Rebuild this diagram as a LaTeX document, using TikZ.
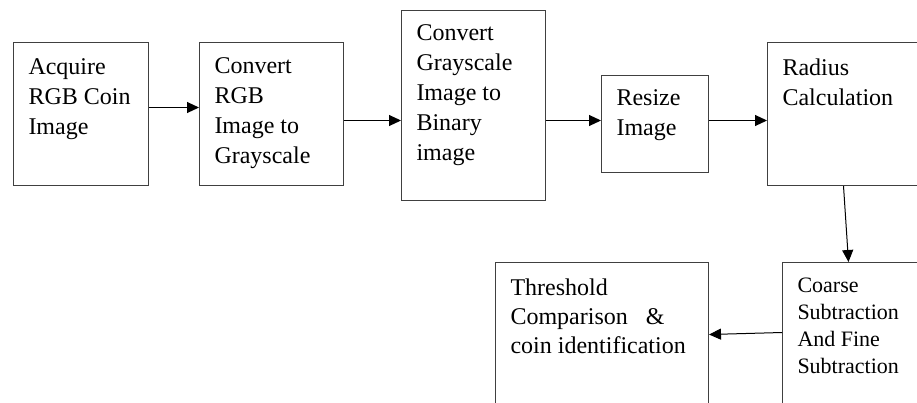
\documentclass[tikz,border=0pt]{standalone}
\usepackage{fontspec}
\setmainfont{Liberation Serif}
\usetikzlibrary{arrows.meta}

% text block inside a box: height, width, first baseline, lines
\newcommand{\blocklines}[4]{\parbox[c][#1][t]{#2}{\raggedright\rule{0pt}{#3}#4}}

\tikzset{
  block/.style={draw=black!75,line width=1pt,anchor=north west,
    inner xsep=15pt,inner ysep=0pt,font=\fontsize{24}{30}\selectfont},
  flow/.style={draw=black,line width=1pt,-{Triangle[length=12pt,width=11pt]}}
}

\begin{document}
\begin{tikzpicture}[x=1pt,y=-1pt]
  \clip (0,0) rectangle (917,402);
%First block
  \node[block] (acquire) at (13,42)
    {\blocklines{143pt}{105pt}{32pt}{Acquire\\RGB Coin\\Image}};
%Second block
  \node[block] (rgbgray) at (199,42)
    {\blocklines{143pt}{114pt}{31pt}{Convert\\RGB\\Image to\\Grayscale}};
% arrow
  \draw[flow] ([yshift=6.5pt]acquire.east) -- ([yshift=6.5pt]rgbgray.west);
%Third block
  \node[block] (graybin) at (401,10)
    {\blocklines{190pt}{114pt}{30pt}{Convert\\Grayscale\\Image to\\Binary\\image}};
% arrow
  \draw[flow] ([yshift=-6.5pt]rgbgray.east) -- ([yshift=-15pt]graybin.west);
%Fourth block
  \node[block] (resize) at (601,75)
    {\blocklines{97pt}{77pt}{30pt}{Resize\\Image}};
% arrow
  \draw[flow] ([yshift=-15pt]graybin.east) -- ([yshift=3.5pt]resize.west);
%Fifth block
  \node[block] (radius) at (767,42)
    {\blocklines{143pt}{122pt}{33pt}{Radius\\Calculation}};
% arrow
  \draw[flow] ([yshift=3.5pt]resize.east) -- ([yshift=-6.5pt]radius.west);
%Sixth block
  \node[block,font=\fontsize{22}{27}\selectfont] (coarse) at (782,262)
    {\blocklines{158pt}{118pt}{30pt}{Coarse\\Subtraction\\And Fine\\Subtraction}};
% arrow
  \draw[flow] (radius.south) -- ([xshift=-8pt]coarse.north);
%Seventh block
  \node[block,font=\fontsize{24}{29}\selectfont] (threshold) at (495,262)
    {\blocklines{158pt}{183pt}{33pt}{Threshold\\Comparison\ \ \ \&\\coin identification}};
% arrow
  \draw[flow] ([yshift=9pt]coarse.west) -- ([yshift=7pt]threshold.east);
\end{tikzpicture}
\end{document}
